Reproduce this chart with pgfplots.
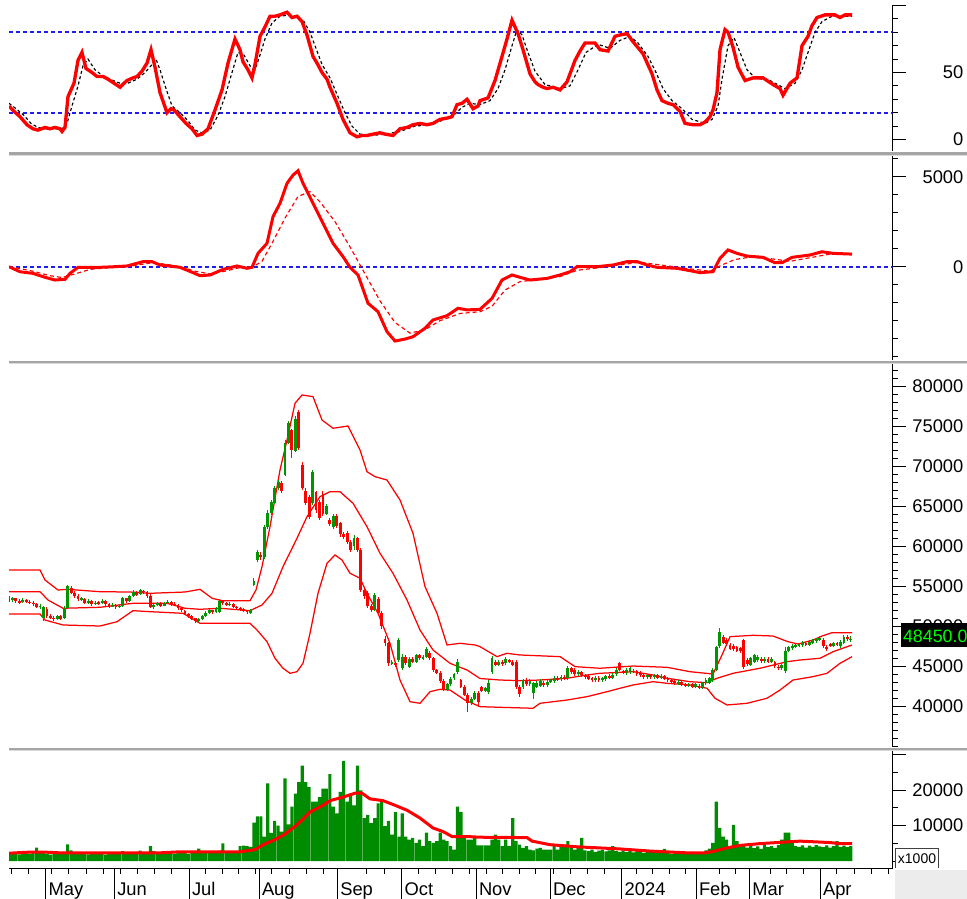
\documentclass[border=0pt]{standalone}
\usepackage{fontspec}
\setmainfont{Liberation Sans}
\usepackage{pgfplots}
\usepackage{pgfplotstable}
\pgfplotsset{compat=1.18}
\definecolor{cgreen}{RGB}{0,150,0}
\definecolor{vgreen}{RGB}{0,140,0}
\definecolor{cred}{RGB}{255,0,0}
\definecolor{dblue}{RGB}{30,30,240}
\definecolor{sepdark}{RGB}{165,165,165}
\definecolor{seplight}{RGB}{218,218,218}
\definecolor{boxgray}{RGB}{236,236,236}

% ---------- Stochastic %K and %D ----------
\pgfplotstableread[row sep=\\]{x y\\
9 25\\ 14 21\\ 20 17\\ 27 11\\ 33 8\\ 38 7\\ 45 9\\ 50 8\\ 55 9\\ 60 8\\ 62 6\\ 65 9\\ 68 32\\ 74 42\\ 78 59\\ 82 65\\ 86 53\\ 92 50\\ 97 47\\ 103 47\\ 108 45\\ 112 43\\ 120 39\\ 124 42\\ 127 44\\ 133 46\\ 137 47\\ 142 51\\ 147 57\\ 151 67\\ 155 54\\ 160 35\\ 167 20\\ 171 23\\ 174 22\\ 180 17\\ 186 12\\ 192 8\\ 197 3\\ 202 4\\ 208 8\\ 215 22\\ 222 37\\ 228 57\\ 235 75\\ 240 67\\ 243 58\\ 248 52\\ 252 46\\ 255 56\\ 260 77\\ 265 84\\ 270 92\\ 275 92\\ 280 93\\ 287 95\\ 292 91\\ 297 92\\ 302 88\\ 307 78\\ 313 62\\ 317 57\\ 322 50\\ 327 45\\ 330 39\\ 337 27\\ 343 15\\ 350 5\\ 357 2\\ 362 3\\ 367 3\\ 373 4\\ 380 5\\ 385 4\\ 393 3\\ 400 8\\ 407 9\\ 413 11\\ 420 12\\ 427 11\\ 433 12\\ 440 15\\ 447 16\\ 452 17\\ 457 26\\ 462 27\\ 467 30\\ 473 23\\ 478 25\\ 480 29\\ 488 31\\ 495 44\\ 502 62\\ 507 75\\ 512 89\\ 518 79\\ 523 67\\ 530 49\\ 535 43\\ 538 41\\ 543 39\\ 547 38\\ 553 39\\ 560 37\\ 567 43\\ 575 59\\ 580 66\\ 585 72\\ 595 72\\ 600 67\\ 608 66\\ 615 77\\ 620 78\\ 627 79\\ 633 73\\ 643 64\\ 652 49\\ 657 37\\ 662 29\\ 668 27\\ 673 26\\ 680 21\\ 685 12\\ 693 11\\ 700 11\\ 705 13\\ 710 17\\ 713 22\\ 717 35\\ 720 67\\ 725 82\\ 728 80\\ 733 69\\ 738 54\\ 745 44\\ 753 46\\ 763 46\\ 773 41\\ 780 38\\ 783 33\\ 790 42\\ 797 46\\ 802 70\\ 808 77\\ 812 85\\ 817 91\\ 825 93\\ 835 93\\ 840 91\\ 845 93\\ 852 93\\
}\stochK
\pgfplotstableread[row sep=\\]{x y\\
9 27\\ 16 23\\ 24 18\\ 31 12\\ 38 9\\ 45 8\\ 55 8\\ 62 8\\ 67 12\\ 72 25\\ 78 40\\ 83 55\\ 88 60\\ 95 52\\ 102 48\\ 110 45\\ 120 42\\ 128 42\\ 137 45\\ 145 50\\ 151 55\\ 156 60\\ 160 52\\ 166 38\\ 172 25\\ 180 20\\ 188 14\\ 195 7\\ 202 5\\ 210 7\\ 218 18\\ 225 32\\ 232 50\\ 238 65\\ 244 63\\ 250 55\\ 255 52\\ 260 63\\ 265 75\\ 272 87\\ 280 92\\ 290 93\\ 298 91\\ 304 88\\ 310 80\\ 316 68\\ 322 56\\ 330 46\\ 338 32\\ 345 20\\ 352 10\\ 360 4\\ 372 3\\ 385 4\\ 400 6\\ 415 10\\ 430 11\\ 445 15\\ 455 19\\ 462 24\\ 470 27\\ 480 26\\ 490 29\\ 498 38\\ 505 52\\ 512 70\\ 517 82\\ 522 78\\ 528 65\\ 535 51\\ 545 41\\ 560 38\\ 570 40\\ 578 52\\ 586 65\\ 598 71\\ 610 68\\ 620 74\\ 630 77\\ 638 72\\ 648 62\\ 656 50\\ 663 38\\ 672 29\\ 682 23\\ 692 15\\ 705 12\\ 712 15\\ 718 25\\ 722 45\\ 728 70\\ 734 76\\ 740 65\\ 747 52\\ 755 46\\ 770 44\\ 785 38\\ 795 42\\ 802 52\\ 808 65\\ 815 80\\ 822 88\\ 832 92\\ 852 92\\
}\stochD

% ---------- MACD and signal ----------
\pgfplotstableread[row sep=\\]{x y\\
9 0\\ 20 -280\\ 33 -370\\ 45 -590\\ 55 -740\\ 65 -700\\ 70 -370\\ 78 -35\\ 100 -35\\ 115 0\\ 127 40\\ 143 280\\ 152 280\\ 160 95\\ 180 -35\\ 193 -330\\ 200 -500\\ 210 -460\\ 223 -150\\ 237 40\\ 247 -90\\ 252 -35\\ 258 740\\ 267 1300\\ 273 2780\\ 280 3520\\ 287 4630\\ 293 5090\\ 298 5330\\ 303 4630\\ 313 3520\\ 323 2410\\ 333 1300\\ 343 560\\ 350 -35\\ 358 -460\\ 368 -2030\\ 378 -2500\\ 387 -3610\\ 395 -4130\\ 405 -4020\\ 413 -3890\\ 425 -3420\\ 433 -2960\\ 447 -2720\\ 458 -2310\\ 467 -2400\\ 480 -2370\\ 492 -1760\\ 502 -740\\ 512 -460\\ 520 -590\\ 530 -740\\ 547 -650\\ 560 -460\\ 570 -280\\ 577 0\\ 597 0\\ 613 95\\ 627 280\\ 637 280\\ 647 95\\ 657 -35\\ 677 -90\\ 690 -220\\ 700 -330\\ 713 -280\\ 720 470\\ 728 930\\ 737 740\\ 747 590\\ 763 520\\ 775 220\\ 782 220\\ 792 520\\ 810 650\\ 822 830\\ 833 740\\ 852 700\\
}\macd
\pgfplotstableread[row sep=\\]{x y\\
9 0\\ 20 -100\\ 35 -280\\ 50 -500\\ 62 -600\\ 75 -400\\ 90 -150\\ 110 -50\\ 130 30\\ 150 200\\ 165 150\\ 180 0\\ 195 -250\\ 210 -400\\ 225 -250\\ 240 -50\\ 252 -40\\ 262 300\\ 272 1300\\ 285 2700\\ 298 3900\\ 310 4170\\ 320 3600\\ 335 2500\\ 350 1100\\ 365 -400\\ 380 -1900\\ 395 -3100\\ 410 -3690\\ 425 -3500\\ 440 -3000\\ 460 -2600\\ 480 -2500\\ 492 -2200\\ 505 -1300\\ 520 -830\\ 540 -700\\ 560 -550\\ 577 -200\\ 600 -50\\ 620 100\\ 640 250\\ 660 100\\ 690 -120\\ 710 -250\\ 722 100\\ 735 400\\ 750 530\\ 770 450\\ 790 300\\ 810 500\\ 830 700\\ 852 720\\
}\signal

% ---------- Bollinger bands (thousands) ----------
\pgfplotstableread[row sep=\\]{x y\\
9 57.06\\ 40 57.06\\ 45 55.81\\ 58 54.56\\ 67 54.65\\ 100 54.35\\ 130 54.31\\ 150 54.15\\ 185 54.31\\ 200 54.65\\ 212 53.53\\ 222 53.23\\ 250 53.23\\ 256 54.56\\ 262 57.48\\ 270 62.48\\ 280 69.56\\ 287 73.31\\ 295 77.90\\ 302 78.94\\ 313 78.73\\ 322 75.81\\ 333 74.78\\ 348 75.06\\ 360 72.06\\ 367 69.35\\ 375 68.73\\ 387 68.31\\ 400 65.81\\ 413 61.65\\ 425 54.98\\ 437 51.65\\ 447 47.69\\ 460 47.90\\ 475 47.69\\ 480 47.48\\ 497 46.23\\ 507 46.65\\ 520 46.44\\ 560 46.23\\ 575 44.98\\ 600 44.78\\ 633 45.06\\ 667 44.90\\ 690 44.35\\ 713 44.06\\ 722 46.44\\ 730 48.73\\ 753 48.90\\ 773 48.81\\ 788 48.10\\ 798 47.81\\ 813 48.31\\ 822 48.81\\ 832 49.23\\ 852 49.23\\
}\bbup
\pgfplotstableread[row sep=\\]{x y\\
9 54.35\\ 40 54.35\\ 48 53.31\\ 63 52.28\\ 100 52.40\\ 133 52.90\\ 167 52.90\\ 185 52.28\\ 200 52.15\\ 220 52.28\\ 250 51.98\\ 262 52.69\\ 272 54.15\\ 283 57.48\\ 297 61.03\\ 307 63.73\\ 320 66.23\\ 330 66.85\\ 340 66.85\\ 353 65.40\\ 367 62.48\\ 380 59.15\\ 393 56.65\\ 407 53.31\\ 420 49.56\\ 433 47.06\\ 450 45.40\\ 467 44.56\\ 480 43.50\\ 500 43.31\\ 520 43.23\\ 540 43.31\\ 567 43.53\\ 587 43.94\\ 600 44.15\\ 633 44.35\\ 653 43.94\\ 667 43.53\\ 690 43.10\\ 707 42.98\\ 717 43.53\\ 733 44.15\\ 760 44.78\\ 787 45.60\\ 800 45.81\\ 820 46.03\\ 833 46.85\\ 852 47.69\\
}\bbmid
\pgfplotstableread[row sep=\\]{x y\\
9 51.56\\ 40 51.56\\ 45 50.81\\ 63 50.19\\ 100 50.06\\ 117 50.60\\ 133 51.98\\ 150 51.85\\ 183 51.65\\ 200 50.40\\ 250 50.40\\ 257 49.56\\ 267 48.10\\ 275 46.03\\ 283 44.78\\ 290 44.15\\ 297 44.35\\ 303 45.40\\ 310 49.15\\ 318 54.15\\ 327 57.90\\ 335 58.94\\ 342 58.31\\ 350 56.65\\ 360 56.03\\ 367 54.15\\ 378 51.65\\ 390 47.90\\ 400 43.31\\ 410 40.60\\ 420 40.40\\ 430 41.85\\ 440 42.15\\ 450 42.06\\ 465 40.80\\ 480 39.98\\ 500 39.90\\ 533 39.78\\ 540 40.40\\ 567 40.81\\ 587 41.23\\ 607 41.85\\ 620 42.28\\ 633 42.69\\ 653 43.10\\ 667 42.90\\ 690 42.69\\ 707 42.28\\ 715 41.03\\ 727 40.19\\ 747 40.40\\ 767 41.03\\ 780 42.06\\ 793 43.31\\ 813 43.73\\ 827 44.15\\ 840 45.40\\ 852 46.23\\
}\bblow

% ---------- Candles (thousands): day, open, close, low, high ----------
\pgfplotstableread[row sep=\\]{i o c l h\\
0 53.6 53.3 53.1 53.8\\ 1 53.3 53.5 53.1 53.7\\ 2 53.5 53.2 53.0 53.6\\ 3 53.2 53.0 52.8 53.4\\ 4 53.0 53.3 52.9 53.5\\
5 53.3 53.1 52.9 53.4\\ 6 53.1 53.0 52.8 53.3\\ 7 53.0 52.8 52.6 53.2\\ 8 52.8 52.5 52.3 53.0\\ 9 52.5 52.6 52.2 52.8\\
10 51.0 52.4 50.7 52.6\\ 11 52.2 51.3 51.1 52.4\\ 12 51.3 51.1 50.9 51.5\\ 13 51.1 51.0 50.7 51.3\\ 14 51.0 51.3 50.8 51.5\\
15 51.3 51.0 50.8 51.4\\ 16 51.0 52.3 50.9 52.5\\ 17 52.3 55.0 52.2 55.2\\ 18 54.8 54.2 54.0 55.0\\ 19 54.2 53.8 53.6 54.4\\
20 53.8 53.4 53.2 54.0\\ 21 53.4 53.5 53.2 53.7\\ 22 53.5 53.0 52.8 53.6\\ 23 53.0 53.2 52.8 53.4\\ 24 53.2 52.8 52.6 53.3\\
25 52.8 53.0 52.7 53.2\\ 26 53.0 52.9 52.7 53.2\\ 27 52.9 53.2 52.8 53.4\\ 28 53.2 52.8 52.6 53.3\\ 29 52.8 52.5 52.3 52.9\\
30 52.5 52.7 52.4 52.9\\ 31 52.7 52.4 52.2 52.8\\ 32 52.4 52.6 52.3 52.8\\ 33 52.5 53.5 52.4 53.7\\ 34 53.5 53.2 53.0 53.6\\
35 53.2 53.8 53.1 54.0\\ 36 53.8 54.3 53.7 54.5\\ 37 54.3 54.0 53.8 54.4\\ 38 54.0 54.5 53.9 54.7\\ 39 54.5 54.3 54.1 54.6\\
40 54.3 53.8 53.6 54.4\\ 41 53.8 52.4 52.3 54.0\\ 42 52.4 52.7 52.2 52.9\\ 43 52.7 52.9 52.6 53.1\\ 44 52.9 52.6 52.4 53.0\\
45 52.6 52.9 52.5 53.1\\ 46 52.9 53.1 52.8 53.3\\ 47 53.1 52.8 52.6 53.2\\ 48 52.8 52.7 52.5 53.0\\ 49 52.7 52.3 52.1 52.8\\
50 52.3 52.0 51.8 52.4\\ 51 52.0 51.6 51.4 52.1\\ 52 51.6 51.3 51.1 51.7\\ 53 51.3 51.0 50.8 51.4\\ 54 51.0 50.7 50.4 51.1\\
55 50.7 50.9 50.5 51.1\\ 56 50.9 51.3 50.8 51.5\\ 57 51.3 51.7 51.2 51.9\\ 58 51.7 52.0 51.6 52.2\\ 59 52.0 51.8 51.6 52.1\\
60 51.8 52.2 51.7 52.4\\ 61 51.8 53.2 51.7 53.4\\ 62 53.2 52.9 52.7 53.3\\ 63 52.9 52.7 52.5 53.0\\ 64 52.7 52.8 52.5 53.0\\
65 52.8 52.5 52.3 52.9\\ 66 52.5 52.3 52.1 52.6\\ 67 52.3 52.2 52.0 52.5\\ 68 52.2 52.0 51.8 52.3\\ 69 52.0 51.8 51.6 52.1\\
70 51.7 52.0 51.6 52.2\\ 71 55.2 55.7 55.0 56.0\\ 72 58.3 59.3 58.1 59.5\\ 73 59.0 58.7 58.3 59.3\\ 74 58.7 62.4 58.5 62.7\\
75 62.4 64.2 62.2 64.5\\ 76 64.2 65.5 64.0 65.8\\ 77 65.5 67.3 65.3 67.6\\ 78 67.3 68.0 67.0 68.3\\ 79 68.0 67.0 66.7 68.2\\
80 69.0 73.0 68.8 73.3\\ 81 73.0 75.4 72.8 75.7\\ 82 74.5 72.0 71.0 74.7\\ 83 72.0 76.0 71.8 76.3\\ 84 76.8 72.3 72.0 77.0\\
85 70.2 67.3 67.0 70.5\\ 86 67.0 65.5 65.2 67.3\\ 87 66.2 63.7 63.4 66.5\\ 88 65.4 69.3 65.2 69.6\\ 89 66.8 64.5 64.2 67.0\\
90 65.5 63.6 63.3 65.8\\ 91 66.6 64.1 63.8 66.9\\ 92 64.1 65.0 63.9 65.3\\ 93 63.3 62.8 62.5 63.6\\ 94 62.4 63.8 62.2 64.0\\
95 63.8 62.5 62.3 64.0\\ 96 62.9 61.5 61.2 63.1\\ 97 61.5 61.2 60.9 61.8\\ 98 61.7 60.6 60.3 61.9\\ 99 60.6 59.6 59.3 60.8\\
100 60.0 61.0 59.6 61.4\\ 101 61.0 59.6 59.3 61.2\\ 102 59.6 54.6 54.3 59.8\\ 103 54.6 53.8 53.5 54.9\\ 104 54.2 52.6 52.3 54.4\\
105 52.6 52.1 51.8 52.8\\ 106 52.1 54.0 51.9 54.2\\ 107 53.5 51.7 51.4 53.7\\ 108 51.7 50.0 49.7 51.9\\ 109 48.5 47.9 47.6 48.8\\
110 47.9 45.4 45.1 48.1\\ 111 45.4 45.6 45.2 45.8\\ 112 45.4 45.2 44.9 45.6\\ 113 45.8 48.3 45.6 48.6\\ 114 44.8 46.2 44.6 46.5\\
115 46.2 45.5 45.2 46.4\\ 116 45.0 46.0 44.8 46.2\\ 117 46.0 45.6 45.4 46.2\\ 118 45.6 46.4 45.4 46.6\\ 119 46.4 46.0 45.8 46.6\\
120 46.0 46.2 45.8 46.4\\ 121 46.2 47.2 46.0 47.4\\ 122 46.7 46.0 45.8 46.9\\ 123 46.0 44.5 44.3 46.2\\ 124 44.5 44.2 44.0 44.7\\
125 44.2 43.2 43.0 44.4\\ 126 43.2 42.1 41.9 43.4\\ 127 42.1 42.8 41.9 43.0\\ 128 42.8 43.5 42.6 43.7\\ 129 43.5 44.0 43.3 44.2\\
130 44.3 45.6 44.1 45.9\\ 131 43.3 42.5 42.3 43.5\\ 132 42.5 41.5 41.3 42.7\\ 133 41.5 40.4 39.3 41.7\\ 134 40.4 41.0 40.2 41.2\\
135 41.0 41.7 40.8 41.9\\ 136 41.7 40.6 40.0 41.9\\ 137 42.4 42.0 41.8 42.6\\ 138 42.0 42.3 41.8 42.5\\ 139 41.8 43.0 41.6 43.3\\
140 44.3 46.0 44.1 46.3\\ 141 45.6 45.2 45.0 45.8\\ 142 45.2 45.6 45.0 45.8\\ 143 45.6 45.3 45.1 45.8\\ 144 45.4 46.0 45.2 46.2\\
145 45.8 45.6 45.4 46.0\\ 146 45.6 45.2 45.0 45.8\\ 147 45.6 42.4 42.2 45.8\\ 148 42.5 41.6 41.2 42.7\\ 149 42.4 43.3 42.2 43.5\\
150 43.3 42.8 42.6 43.5\\ 151 42.8 43.2 42.6 43.4\\ 152 41.7 42.9 41.0 43.1\\ 153 42.5 43.0 42.3 43.2\\ 154 42.6 43.2 42.4 43.4\\
155 43.0 42.7 42.5 43.2\\ 156 42.7 43.1 42.5 43.3\\ 157 43.1 43.3 42.9 43.5\\ 158 43.2 43.6 43.0 43.8\\ 159 43.6 43.4 43.2 43.8\\
160 43.4 43.7 43.2 43.9\\ 161 43.7 43.5 43.3 43.9\\ 162 43.5 44.8 43.3 45.0\\ 163 44.8 44.3 44.1 45.0\\ 164 44.6 44.0 43.8 44.8\\
165 44.0 44.3 43.8 44.5\\ 166 44.3 43.9 43.7 44.5\\ 167 43.9 43.7 43.5 44.1\\ 168 43.8 43.5 43.3 44.0\\ 169 43.5 43.3 43.1 43.7\\
170 43.3 43.6 43.1 43.8\\ 171 43.6 43.3 43.1 43.8\\ 172 43.3 43.5 43.1 43.7\\ 173 43.4 43.8 43.2 44.0\\ 174 43.8 43.6 43.4 44.0\\
175 43.6 44.0 43.4 44.2\\ 176 44.0 44.6 43.8 44.8\\ 177 45.4 44.6 44.4 45.6\\ 178 44.4 44.2 44.0 44.6\\ 179 44.2 44.6 44.0 44.8\\
180 44.3 44.8 44.1 45.0\\ 181 44.5 44.4 44.2 44.7\\ 182 44.4 44.0 43.8 44.6\\ 183 44.2 43.9 43.7 44.4\\ 184 43.9 43.7 43.5 44.1\\
185 43.7 43.9 43.5 44.1\\ 186 43.9 43.7 43.5 44.1\\ 187 43.7 43.9 43.5 44.1\\ 188 43.9 43.6 43.4 44.1\\ 189 43.6 43.8 43.4 44.0\\
190 43.8 43.5 43.3 44.0\\ 191 43.5 43.3 43.1 43.7\\ 192 43.3 43.1 42.9 43.5\\ 193 43.2 42.9 42.7 43.4\\ 194 42.9 43.1 42.7 43.3\\
195 43.1 42.8 42.6 43.3\\ 196 42.8 42.6 42.4 43.0\\ 197 42.6 42.8 42.4 43.0\\ 198 42.8 42.5 42.3 43.0\\ 199 42.5 42.8 42.3 43.0\\
200 42.6 42.4 42.2 42.8\\ 201 42.4 42.9 42.2 43.1\\ 202 42.9 43.3 42.7 43.5\\ 203 43.0 43.5 42.8 43.7\\ 204 43.3 44.6 43.1 44.8\\
205 44.6 47.4 44.4 47.6\\ 206 47.5 49.3 47.3 49.8\\ 207 48.7 48.0 47.8 48.9\\ 208 48.3 47.8 47.6 48.5\\ 209 47.7 47.2 47.0 47.9\\
210 47.6 47.2 47.0 47.8\\ 211 47.4 47.0 46.8 47.6\\ 212 47.3 46.9 46.7 47.5\\ 213 48.3 44.9 44.7 48.5\\ 214 45.8 45.3 45.1 46.0\\
215 45.2 46.0 45.0 46.2\\ 216 45.6 46.4 45.4 46.6\\ 217 45.8 46.2 45.6 46.4\\ 218 46.0 45.7 45.5 46.2\\ 219 45.7 46.0 45.5 46.2\\
220 46.0 45.6 45.4 46.2\\ 221 45.6 46.0 45.4 46.2\\ 222 45.5 45.0 44.8 45.7\\ 223 45.0 44.8 44.6 45.2\\ 224 44.8 45.2 44.6 45.4\\
225 44.4 47.0 44.2 47.4\\ 226 47.0 47.4 46.8 47.6\\ 227 47.3 47.6 47.1 47.8\\ 228 47.5 47.7 47.3 47.9\\ 229 47.6 47.8 47.4 48.0\\
230 47.7 48.0 47.5 48.2\\ 231 47.9 47.7 47.5 48.1\\ 232 47.7 48.1 47.5 48.3\\ 233 48.0 48.3 47.8 48.5\\ 234 48.2 48.4 48.0 48.6\\
235 48.4 48.6 48.2 48.8\\ 236 48.3 47.5 47.3 48.5\\ 237 47.5 47.2 47.0 47.7\\ 238 47.8 47.6 47.4 48.0\\ 239 47.6 47.9 47.4 48.1\\
240 47.9 47.7 47.5 48.1\\ 241 47.5 48.1 47.3 48.3\\ 242 48.0 48.7 47.8 48.9\\ 243 48.7 48.4 48.2 48.9\\ 244 48.3 48.45 48.1 48.8\\
}\candles

% ---------- Volume (thousands) ----------
\pgfplotstableread[row sep=\\]{i v\\
0 2.2\\ 1 2.0\\ 2 2.4\\ 3 1.9\\ 4 2.6\\ 5 2.3\\ 6 2.1\\ 7 2.8\\ 8 3.8\\ 9 2.4\\
10 2.2\\ 11 2.0\\ 12 1.8\\ 13 2.3\\ 14 2.5\\ 15 2.1\\ 16 2.6\\ 17 4.7\\ 18 3.0\\ 19 2.4\\
20 2.2\\ 21 2.0\\ 22 2.3\\ 23 1.9\\ 24 2.1\\ 25 2.4\\ 26 2.0\\ 27 2.2\\ 28 1.8\\ 29 2.3\\
30 2.1\\ 31 2.5\\ 32 2.0\\ 33 2.8\\ 34 2.2\\ 35 2.0\\ 36 2.4\\ 37 2.6\\ 38 2.9\\ 39 2.3\\
40 2.5\\ 41 4.2\\ 42 2.8\\ 43 2.2\\ 44 2.0\\ 45 2.3\\ 46 2.1\\ 47 2.4\\ 48 2.0\\ 49 2.2\\
50 2.6\\ 51 2.3\\ 52 2.0\\ 53 2.5\\ 54 2.8\\ 55 3.5\\ 56 2.4\\ 57 2.2\\ 58 2.6\\ 59 2.3\\
60 2.5\\ 61 2.9\\ 62 5.0\\ 63 2.8\\ 64 2.4\\ 65 2.6\\ 66 2.2\\ 67 4.2\\ 68 4.3\\ 69 4.2\\
70 4.0\\ 71 10.8\\ 72 12.6\\ 73 12.6\\ 74 6.9\\ 75 21.9\\ 76 7.9\\ 77 11.3\\ 78 10.0\\ 79 8.3\\
80 23.3\\ 81 10.3\\ 82 15.3\\ 83 19.0\\ 84 22.2\\ 85 26.9\\ 86 22.2\\ 87 20.8\\ 88 16.7\\ 89 16.7\\
90 18.0\\ 91 20.4\\ 92 20.4\\ 93 24.5\\ 94 15.3\\ 95 13.4\\ 96 19.5\\ 97 28.2\\ 98 16.7\\ 99 19.0\\
100 15.7\\ 101 26.9\\ 102 19.9\\ 103 12.1\\ 104 13.0\\ 105 10.7\\ 106 12.1\\ 107 16.2\\ 108 16.7\\ 109 9.8\\
110 11.3\\ 111 7.4\\ 112 13.8\\ 113 6.9\\ 114 13.4\\ 115 6.9\\ 116 6.0\\ 117 6.5\\ 118 5.1\\ 119 6.0\\
120 4.2\\ 121 8.0\\ 122 5.6\\ 123 5.1\\ 124 5.6\\ 125 8.0\\ 126 6.0\\ 127 5.6\\ 128 4.2\\ 129 3.2\\
130 15.3\\ 131 13.8\\ 132 6.5\\ 133 6.0\\ 134 6.0\\ 135 6.5\\ 136 4.4\\ 137 4.4\\ 138 4.4\\ 139 4.4\\
140 6.0\\ 141 7.4\\ 142 6.0\\ 143 4.2\\ 144 6.0\\ 145 4.2\\ 146 12.1\\ 147 5.6\\ 148 4.6\\ 149 3.7\\
150 4.2\\ 151 3.2\\ 152 3.0\\ 153 3.5\\ 154 3.7\\ 155 3.2\\ 156 3.2\\ 157 3.2\\ 158 4.2\\ 159 3.2\\
160 4.4\\ 161 4.6\\ 162 5.6\\ 163 3.7\\ 164 3.2\\ 165 4.2\\ 166 6.5\\ 167 3.0\\ 168 2.8\\ 169 3.2\\
170 2.6\\ 171 2.9\\ 172 3.1\\ 173 2.7\\ 174 3.0\\ 175 4.2\\ 176 2.8\\ 177 2.6\\ 178 3.0\\ 179 2.5\\
180 2.8\\ 181 2.4\\ 182 2.9\\ 183 2.6\\ 184 2.3\\ 185 2.7\\ 186 2.5\\ 187 2.8\\ 188 2.4\\ 189 2.6\\
190 3.4\\ 191 2.3\\ 192 2.0\\ 193 2.5\\ 194 2.2\\ 195 2.7\\ 196 2.4\\ 197 2.1\\ 198 2.6\\ 199 2.3\\
200 2.5\\ 201 2.5\\ 202 3.0\\ 203 3.5\\ 204 5.1\\ 205 16.7\\ 206 9.3\\ 207 6.9\\ 208 6.0\\ 209 4.2\\
210 10.2\\ 211 5.6\\ 212 4.6\\ 213 4.2\\ 214 3.8\\ 215 4.4\\ 216 3.6\\ 217 4.1\\ 218 3.4\\ 219 4.6\\
220 3.9\\ 221 4.2\\ 222 3.7\\ 223 4.5\\ 224 6.0\\ 225 8.0\\ 226 8.0\\ 227 5.6\\ 228 4.2\\ 229 4.0\\
230 4.4\\ 231 3.8\\ 232 4.3\\ 233 4.0\\ 234 4.5\\ 235 4.1\\ 236 3.9\\ 237 4.4\\ 238 3.8\\ 239 4.2\\
240 5.6\\ 241 4.0\\ 242 4.3\\ 243 3.9\\ 244 4.2\\
}\vol
\pgfplotstableread[row sep=\\]{x y\\
9 2.2\\ 29 2.5\\ 45 2.5\\ 60 2.3\\ 100 2.3\\ 160 2.3\\ 180 2.6\\ 240 2.6\\ 255 3.2\\ 262 4.4\\ 268 5.2\\ 275 6.0\\ 285 7.6\\ 297 10.2\\ 310 13.8\\ 323 15.7\\ 330 17.0\\ 343 18.0\\ 355 19.1\\ 362 19.1\\ 370 17.5\\ 383 17.0\\ 395 15.7\\ 407 14.3\\ 420 12.1\\ 433 9.3\\ 443 8.3\\ 452 6.9\\ 467 6.9\\ 480 6.7\\ 527 6.6\\ 532 5.6\\ 550 4.6\\ 577 4.0\\ 620 3.4\\ 650 2.8\\ 687 2.3\\ 705 2.3\\ 713 2.7\\ 727 3.7\\ 740 4.4\\ 760 4.9\\ 800 5.6\\ 830 5.2\\ 840 4.9\\ 852 4.9\\
}\volma

\pgfplotsset{
  panel/.style={
    scale only axis, width=530.1pt, xmin=9, xmax=892.5,
    anchor=north west,
    axis x line=none, axis y line=right,
    axis line style={-, line width=0.6pt, black},
    tick align=outside, major tick length=7.8pt, minor tick length=3pt,
    tick style={black, line width=0.6pt},
    yticklabel style={font=\fontsize{11}{13}\selectfont, anchor=west, inner sep=0pt,
      text width=40pt, align=right, xshift=-5.5pt},
  },
  upcandle/.style={draw=none, mark=none,
    restrict expr to domain={\thisrow{c}-\thisrow{o}}{0:1000},
    error bars/.cd, y dir=both, y explicit, error mark=none},
  downcandle/.style={draw=none, mark=none,
    restrict expr to domain={\thisrow{c}-\thisrow{o}}{-1000:-0.0001},
    error bars/.cd, y dir=both, y explicit, error mark=none},
}

\begin{document}
\begin{tikzpicture}
\useasboundingbox (0,0) rectangle (580.2pt,-539.4pt);

% Panel 1: stochastic
\begin{axis}[panel, at={(5.4pt,-3.3pt)}, height=87.3pt, ymin=-8.58, ymax=100,
  ytick={0,50,100}, yticklabels={0,50,{}}, minor ytick={10,20,30,40,60,70,80,90}]
\addplot[dblue, line width=1pt, dash pattern=on 2.4pt off 1.8pt] coordinates {(9,20) (892.5,20)};
\addplot[dblue, line width=1pt, dash pattern=on 2.4pt off 1.8pt] coordinates {(9,80) (892.5,80)};
\addplot[black, line width=0.7pt, dash pattern=on 1.8pt off 1.5pt] table[x=x,y=y] {\stochD};
\addplot[cred, line width=2pt] table[x=x,y=y] {\stochK};
\end{axis}

% Panel 2: MACD
\begin{axis}[panel, at={(5.4pt,-93.6pt)}, height=122.4pt, ymin=-5183, ymax=6150,
  ytick={0,5000}, yticklabels={0,5000}, minor ytick={-5000,-4000,...,6000}]
\addplot[dblue, line width=1pt, dash pattern=on 2.4pt off 1.8pt] coordinates {(9,0) (892.5,0)};
\addplot[cred, line width=0.7pt, dash pattern=on 2.4pt off 1.8pt] table[x=x,y=y] {\signal};
\addplot[cred, line width=1.8pt] table[x=x,y=y] {\macd};
\end{axis}

% Panel 3: price with Bollinger bands
\begin{axis}[panel, at={(5.4pt,-218.4pt)}, height=229.8pt, ymin=34.9375, ymax=82.8125,
  ytick={40,45,...,80}, yticklabels={40000,45000,50000,55000,60000,65000,70000,75000,80000},
  minor ytick={35,36,...,82}]
\addplot[cred, line width=0.75pt] table[x=x,y=y] {\bbup};
\addplot[cred, line width=0.75pt] table[x=x,y=y] {\bbmid};
\addplot[cred, line width=0.75pt] table[x=x,y=y] {\bblow};
% wicks
\addplot[upcandle, error bar style={line width=0.6pt, draw=cgreen}]
  table[x expr=9+3.45*\thisrow{i}, y expr=(\thisrow{l}+\thisrow{h})/2, y error expr=(\thisrow{h}-\thisrow{l})/2] {\candles};
\addplot[downcandle, error bar style={line width=0.6pt, draw=cred}]
  table[x expr=9+3.45*\thisrow{i}, y expr=(\thisrow{l}+\thisrow{h})/2, y error expr=(\thisrow{h}-\thisrow{l})/2] {\candles};
% bodies
\addplot[upcandle, error bar style={line width=1.7pt, draw=cgreen}]
  table[x expr=9+3.45*\thisrow{i}, y expr=(\thisrow{o}+\thisrow{c})/2, y error expr=abs(\thisrow{c}-\thisrow{o})/2] {\candles};
\addplot[downcandle, error bar style={line width=1.7pt, draw=cred}]
  table[x expr=9+3.45*\thisrow{i}, y expr=(\thisrow{o}+\thisrow{c})/2, y error expr=abs(\thisrow{c}-\thisrow{o})/2] {\candles};
\end{axis}

% Panel 4: volume
\begin{axis}[panel, at={(5.4pt,-450.6pt)}, height=70.2pt, ymin=-1.972, ymax=30.987,
  ytick={0,10,20,30}, yticklabels={{},10000,20000,{}}, minor ytick={5,15,25}]
\addplot[ybar, bar width=1.9pt, fill=vgreen, draw=none] table[x expr=9+3.45*\thisrow{i}, y=v] {\vol};
\addplot[cred, line width=1.8pt] table[x=x,y=y] {\volma};
\end{axis}

% Date axis
\begin{axis}[scale only axis, width=530.1pt, height=70.2pt, at={(5.4pt,-450.6pt)}, anchor=north west,
  xmin=9, xmax=892.5, ymin=0, ymax=1,
  axis y line=none, axis x line=bottom, axis line style={-, line width=0.6pt, black},
  tick align=outside, major tick length=18.6pt, minor tick length=3.6pt,
  tick style={black, line width=0.6pt},
  xtick={45.7,114.3,189,259,337.3,401.7,476,550,621.7,696,749.3,820},
  xticklabels={May,Jun,Jul,Aug,Sep,Oct,Nov,Dec,2024,Feb,Mar,Apr},
  minor xtick={11,28,51,68,86,103,120,137,154,171,205,222,238,255,271.7,289.3,306.7,323.3,366,384,418,435,452,469,486.7,502.3,519,535,553.3,570,587.3,604,636.7,652.7,669.3,685,719.3,735,770,786.7,803.3,836.7,854,871.7,888.3},
  xticklabel style={font=\fontsize{11}{13}\selectfont, anchor=base west, inner sep=0pt, xshift=1.6pt, yshift=2.4pt}]
\addplot[draw=none] coordinates {(9,0.5)};
\end{axis}

% panel separators
\foreach \yy in {152.5,360.5,747.5}{
  \fill[sepdark] (5.4pt,-\yy*0.6pt) rectangle (580.2pt,-\yy*0.6pt-1.5pt);
  \fill[seplight] (5.4pt,-\yy*0.6pt-1.5pt) rectangle (580.2pt,-\yy*0.6pt-2.2pt);
}
% last price tag
\fill[black] (540.4pt,-374pt) rectangle (580.2pt,-388pt);
\node[anchor=west, inner sep=0pt, text=green, font=\fontsize{10.7}{12}\selectfont] at (541.6pt,-381.9pt) {48450.00};
% x1000 box
\draw[black!75, line width=0.6pt, fill=white] (537.4pt,-520.8pt) -- (537.4pt,-508.8pt) -- (563pt,-508.8pt) -- (563pt,-520.8pt);
\node[inner sep=0pt, font=\fontsize{8.4}{10}\selectfont] at (550.2pt,-515pt) {x1000};
% bottom-right gray box
\fill[boxgray] (537pt,-522pt) rectangle (580.2pt,-539.4pt);
\end{tikzpicture}
\end{document}
